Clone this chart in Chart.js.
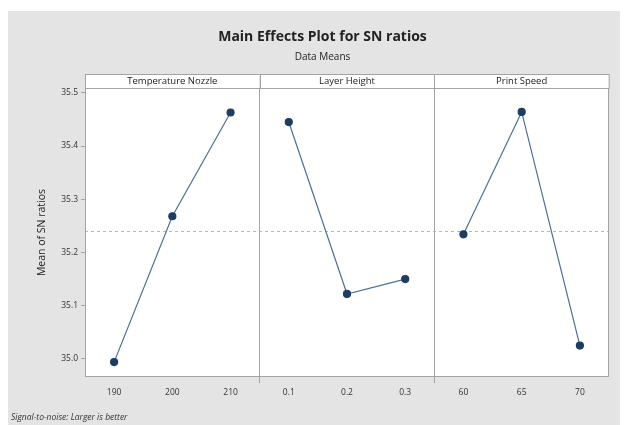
<!DOCTYPE html>
<html>
<head>
<meta charset="utf-8">
<script src="https://cdn.jsdelivr.net/npm/chart.js@4.4.0/dist/chart.umd.min.js"></script>
<style>
  html, body { margin: 0; padding: 0; background: #ffffff; }
  #wrap { position: absolute; left: 0; top: 0; width: 628px; height: 425px; }
</style>
</head>
<body>
<div id="wrap"><canvas id="c" width="628" height="425"></canvas></div>
<script>
// ---- data ----
const categories = ['190', '200', '210', '0.1', '0.2', '0.3', '60', '65', '70'];
const factorNames = ['Temperature Nozzle', 'Layer Height', 'Print Speed'];
const tempLevels = ['190', '200', '210'];
const tempMeans = [34.994, 35.268, 35.463];
const layerLevels = ['0.1', '0.2', '0.3'];
const layerMeans = [35.445, 35.122, 35.150];
const speedLevels = ['60', '65', '70'];
const speedMeans = [35.234, 35.464, 35.025];
const grandMean = 35.241;
const yTickValues = [35.0, 35.1, 35.2, 35.3, 35.4, 35.5];
const titleText = 'Main Effects Plot for SN ratios';
const subtitleText = 'Data Means';
const yTitleText = 'Mean of SN ratios';
const footnoteText = 'Signal-to-noise: Larger is better';

const FONT = "'Open Sans', 'Noto Sans', sans-serif";
const lineColor = '#4c6f97';
const pointColor = '#1e3d63';
const frameColor = '#a3a3a3';

function toPoints(levels, means) {
  return levels.map((l, i) => ({ x: l, y: means[i] }));
}

const panelPlugin = {
  id: 'panelPlugin',
  beforeDraw(chart) {
    const ctx = chart.ctx;
    const a = chart.chartArea;
    ctx.save();
    ctx.fillStyle = '#e4e4e4';
    ctx.fillRect(8, 11, 612, 414);
    ctx.fillStyle = '#ffffff';
    ctx.fillRect(a.left, a.top, a.right - a.left, a.bottom - a.top);
    ctx.restore();
  },
  afterDatasetsDraw(chart) {
    const ctx = chart.ctx;
    const a = chart.chartArea;
    const x = chart.scales.x;
    ctx.save();
    // frame
    ctx.strokeStyle = frameColor;
    ctx.lineWidth = 1;
    ctx.strokeRect(a.left + 0.5, a.top + 0.5, a.right - a.left - 1, a.bottom - a.top - 1);
    // strip headers
    const bounds = [a.left,
      (x.getPixelForValue(2) + x.getPixelForValue(3)) / 2,
      (x.getPixelForValue(5) + x.getPixelForValue(6)) / 2,
      a.right];
    const stripTop = a.top - 14;
    for (let i = 0; i < 3; i++) {
      ctx.fillStyle = '#ffffff';
      ctx.fillRect(bounds[i], stripTop, bounds[i + 1] - bounds[i], 14);
      ctx.strokeStyle = frameColor;
      ctx.strokeRect(Math.round(bounds[i]) + 0.5, stripTop + 0.5, bounds[i + 1] - bounds[i], 14);
      ctx.fillStyle = '#222222';
      ctx.font = '9.5px ' + FONT;
      ctx.textAlign = 'center';
      ctx.textBaseline = 'middle';
      ctx.fillText(factorNames[i], (bounds[i] + bounds[i + 1]) / 2, stripTop + 7.5);
    }
    // footnote
    ctx.fillStyle = '#333333';
    ctx.font = 'italic 8.5px ' + FONT;
    ctx.textAlign = 'left';
    ctx.textBaseline = 'middle';
    ctx.fillText(footnoteText, 11, 418);
    ctx.restore();
  },
  beforeDatasetsDraw(chart) {
    const ctx = chart.ctx;
    const a = chart.chartArea;
    const y = chart.scales.y;
    const py = Math.round(y.getPixelForValue(grandMean)) + 0.5;
    ctx.save();
    ctx.strokeStyle = '#b8b8b8';
    ctx.lineWidth = 1;
    ctx.setLineDash([3, 3]);
    ctx.beginPath();
    ctx.moveTo(a.left, py);
    ctx.lineTo(a.right, py);
    ctx.stroke();
    ctx.restore();
  }
};

const ds = (levels, means) => ({
  data: toPoints(levels, means),
  borderColor: lineColor,
  borderWidth: 1.2,
  backgroundColor: pointColor,
  pointBackgroundColor: pointColor,
  pointBorderColor: pointColor,
  pointRadius: 3.5,
  pointHoverRadius: 3.5,
  tension: 0,
  fill: false
});

new Chart(document.getElementById('c'), {
  type: 'line',
  data: {
    labels: categories,
    datasets: [ds(tempLevels, tempMeans), ds(layerLevels, layerMeans), ds(speedLevels, speedMeans)]
  },
  plugins: [panelPlugin],
  options: {
    responsive: false,
    animation: false,
    events: [],
    layout: { padding: { top: 10, left: 36, right: 19, bottom: 26 } },
    plugins: {
      legend: { display: false },
      tooltip: { enabled: false },
      title: {
        display: true,
        text: titleText,
        color: '#222222',
        font: { family: FONT, size: 14, weight: 'bold' },
        padding: { top: 18.6, bottom: 5.6 }
      },
      subtitle: {
        display: true,
        text: subtitleText,
        color: '#222222',
        font: { family: FONT, size: 10 },
        padding: { top: 0, bottom: 25 }
      }
    },
    scales: {
      x: {
        type: 'category',
        offset: true,
        grid: {
          offset: true,
          drawOnChartArea: true,
          drawTicks: true,
          tickLength: 6,
          color: (c) => (c.index === 3 || c.index === 6) ? frameColor : 'rgba(0,0,0,0)'
        },
        border: { display: false },
        ticks: {
          color: '#333333',
          font: { family: FONT, size: 8.5 },
          padding: 4,
          maxRotation: 0,
          autoSkip: false
        },
        afterFit(scale) { scale.height = 22; }
      },
      y: {
        min: 34.966,
        max: 35.509,
        afterBuildTicks(scale) { scale.ticks = yTickValues.map(v => ({ value: v })); },
        grid: { drawOnChartArea: false, drawTicks: true, tickLength: 4, color: frameColor },
        border: { display: false },
        ticks: {
          color: '#333333',
          font: { family: FONT, size: 8.5 },
          padding: 3,
          callback: (v) => Number(v).toFixed(1)
        },
        title: {
          display: true,
          text: yTitleText,
          color: '#222222',
          font: { family: FONT, size: 10.5 },
          padding: { top: 0, bottom: 4 }
        },
        afterFit(scale) { scale.width = 49; }
      }
    }
  }
});
</script>
</body>
</html>
